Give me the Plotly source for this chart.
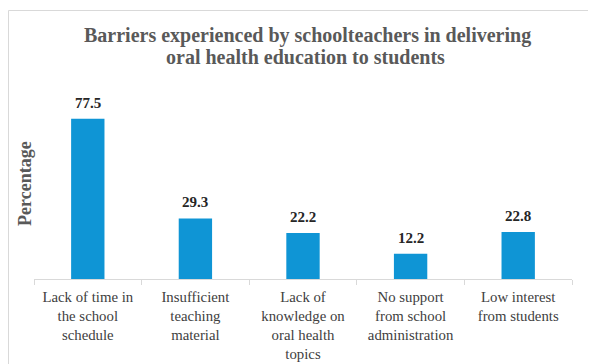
import plotly.graph_objects as go

categories = [
    "Lack of time in<br>the school<br>schedule",
    "Insufficient<br>teaching<br>material",
    "Lack of<br>knowledge on<br>oral health<br>topics",
    "No support<br>from school<br>administration",
    "Low interest<br>from students",
]
values = [77.5, 29.3, 22.2, 12.2, 22.8]
value_labels = ["77.5", "29.3", "22.2", "12.2", "22.8"]
title_lines = ["Barriers experienced by schoolteachers in delivering",
               "oral health education to students"]

# the page body adds an 8px offset; lay out in figure pixels
OFF = 8
W, H = 588, 356
L, R, T, B = 34 - OFF, 24, 93 - OFF, 85
pw = W - L - R
ph = H - T - B
serif = "Liberation Serif"

def px_x(x):  # page px -> paper x
    return (x - OFF - L) / pw

def px_y(y):  # page px -> paper y
    return (T + ph - (y - OFF)) / ph

fig = go.Figure(go.Bar(
    x=categories, y=values,
    marker=dict(color="#0f95d5", line=dict(width=0)),
    width=0.31,
))

for c, v, t in zip(categories, values, value_labels):
    fig.add_annotation(
        x=c, y=v, xref="x", yref="y", text="<b>%s</b>" % t,
        showarrow=False, yanchor="middle", yshift=16,
        font=dict(family=serif, size=15, color="#262626"),
    )

for line, (cx, cy) in zip(title_lines, [(307, 35), (305.5, 57)]):
    fig.add_annotation(
        text="<b>%s</b>" % line, xref="paper", yref="paper",
        x=px_x(cx), y=px_y(cy), xanchor="center", yanchor="middle",
        showarrow=False, font=dict(family=serif, size=20, color="#595959"),
    )

fig.add_annotation(
    text="<b>Percentage</b>", textangle=-90,
    xref="paper", yref="paper",
    x=px_x(25), y=px_y(184),
    xanchor="center", yanchor="middle", showarrow=False,
    font=dict(family=serif, size=18, color="#595959"),
)

fig.update_layout(
    width=W, height=H,
    margin=dict(l=L, r=R, t=T, b=B, autoexpand=False),
    paper_bgcolor="white", plot_bgcolor="white",
    showlegend=False,
    xaxis=dict(
        showline=True, linecolor="#d9d9d9", linewidth=1,
        ticks="outside", tickson="boundaries", ticklen=5, tickcolor="#d9d9d9",
        tickangle=0, automargin=False, ticklabelstandoff=4,
        tickfont=dict(family=serif, size=14.8, color="#404040"),
        showgrid=False,
    ),
    yaxis=dict(
        range=[0, 90], showticklabels=False, showgrid=False,
        zeroline=False, showline=False, ticks="", automargin=False,
    ),
    shapes=[dict(
        type="rect", xref="paper", yref="paper",
        x0=px_x(8.5), x1=px_x(610),
        y0=px_y(380), y1=px_y(10.5),
        line=dict(color="#d9d9d9", width=1), fillcolor="rgba(0,0,0,0)",
        layer="below",
    )],
)

fig.write_html("out.html")
